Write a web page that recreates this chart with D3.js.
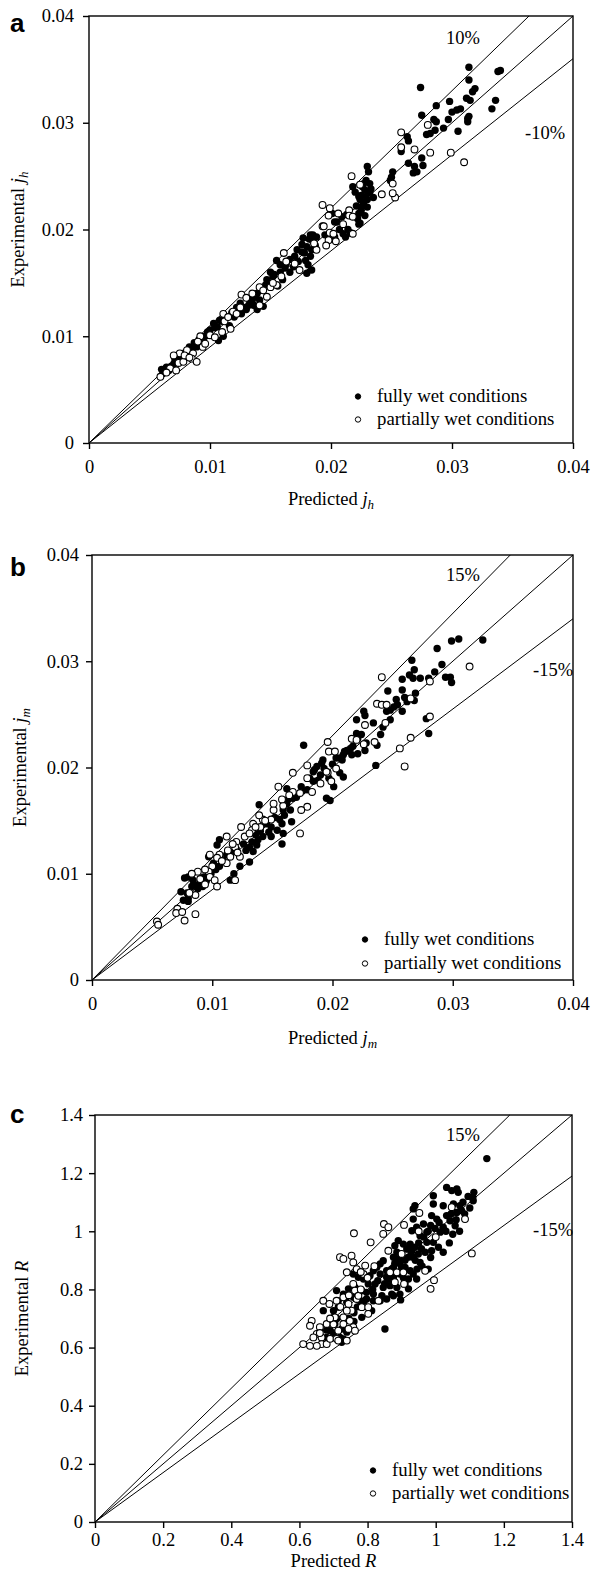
<!DOCTYPE html>
<html>
<head>
<meta charset="utf-8">
<script src="https://cdn.jsdelivr.net/npm/d3@7"></script>
<style>
  body { margin: 0; background: #fff; }
  svg { display: block; }
</style>
</head>
<body>
<svg id="chart" width="600" height="1573"></svg>
<script>
// ---- data ----
const jTicks = [0, 0.01, 0.02, 0.03, 0.04]
const jTickLabels = ["0", "0.01", "0.02", "0.03", "0.04"]
const rTicks = [0, 0.2, 0.4, 0.6, 0.8, 1, 1.2, 1.4]
const rTickLabels = ["0", "0.2", "0.4", "0.6", "0.8", "1", "1.2", "1.4"]
const legendLabels = ["fully wet conditions", "partially wet conditions"]
const jhBand = 0.10
const jmBand = 0.15
const rBand = 0.15

// (a) heat transfer j_h : [predicted, experimental]
const jhFully = [
  [0.0314,0.0352],[0.0314,0.0340],[0.0338,0.0348],[0.0340,0.0349],[0.0274,0.0333],[0.0319,0.0332],[0.0317,0.0329],
  [0.0298,0.0320],[0.0287,0.0316],[0.0312,0.0323],[0.0315,0.0321],[0.0336,0.0321],[0.0333,0.0313],[0.0275,0.0307],
  [0.0285,0.0303],[0.0287,0.0301],[0.0300,0.0310],[0.0304,0.0312],[0.0307,0.0313],[0.0297,0.0303],[0.0313,0.0304],
  [0.0314,0.0306],[0.0313,0.0301],[0.0305,0.0292],[0.0293,0.0295],[0.0286,0.0293],[0.0279,0.0289],[0.0282,0.0290],
  [0.0263,0.0287],[0.0264,0.0283],[0.0258,0.0273],[0.0264,0.0262],[0.0269,0.0259],[0.0268,0.0253],[0.0275,0.0267],
  [0.0276,0.0260],[0.0271,0.0254],[0.0251,0.0254],[0.0250,0.0249],[0.0249,0.0246],[0.0230,0.0259],[0.0231,0.0254],
  [0.0227,0.0243],[0.0228,0.0237],[0.0225,0.0232],[0.0229,0.0231],[0.0224,0.0228],[0.0227,0.0225],[0.0230,0.0221],
  [0.0225,0.0218],[0.0223,0.0215],[0.0232,0.0243],[0.0232,0.0235],[0.0223,0.0205],[0.0201,0.0215],[0.0203,0.0207],
  [0.0209,0.0212],[0.0213,0.0214],[0.0185,0.0195],[0.0188,0.0193],[0.0210,0.0196],[0.0216,0.0197],[0.0203,0.0193],
  [0.0177,0.0192],[0.0183,0.0195],[0.0185,0.0189],[0.0180,0.0184],[0.0184,0.0181],[0.0176,0.0179],[0.0183,0.0175],
  [0.0179,0.0171],[0.0181,0.0167],[0.0180,0.0159],[0.0184,0.0162],[0.0172,0.0181],[0.0155,0.0171],[0.0158,0.0167],
  [0.0162,0.0164],[0.0166,0.0160],[0.0169,0.0165],[0.0147,0.0153],[0.0152,0.0156],[0.0141,0.0134],[0.0139,0.0125],
  [0.0136,0.0129],[0.0144,0.0128],[0.0130,0.0125],[0.0126,0.0121],[0.0108,0.0115],[0.0106,0.0109],[0.0111,0.0100],
  [0.0107,0.0096],[0.0103,0.0112],[0.0094,0.0098],[0.0089,0.0090],[0.0083,0.0090],[0.0078,0.0084],[0.0071,0.0078],
  [0.0064,0.0071],[0.0061,0.0065],[0.0218,0.0240],[0.0223,0.0231],[0.0224,0.0206],[0.0214,0.0200],[0.0207,0.0200],
  [0.0205,0.0207],[0.0133,0.0133],[0.0137,0.0137],[0.0120,0.0118],[0.0116,0.0110],[0.0098,0.0104],[0.0092,0.0093],
  [0.0068,0.0072],[0.0074,0.0076],[0.0060,0.0069],[0.0156,0.0147],[0.0160,0.0153],[0.0150,0.0160],[0.0176,0.0186],
  [0.0187,0.0185],[0.0195,0.0195],[0.0200,0.0191],[0.0212,0.0193],[0.0230,0.0228],[0.0226,0.0222],[0.0220,0.0235],
  [0.0062,0.0066],[0.0066,0.0068],[0.0070,0.0074],[0.0076,0.0080],[0.0080,0.0085],[0.0085,0.0088],[0.0087,0.0094],
  [0.0091,0.0097],[0.0096,0.0100],[0.0100,0.0106],[0.0104,0.0108],[0.0110,0.0114],[0.0113,0.0118],[0.0118,0.0122],
  [0.0122,0.0127],[0.0125,0.0131],[0.0128,0.0127],[0.0132,0.0129],[0.0135,0.0134],[0.0139,0.0140],[0.0142,0.0143],
  [0.0146,0.0148],[0.0149,0.0150],[0.0153,0.0158],[0.0158,0.0160],[0.0163,0.0168],[0.0166,0.0172],[0.0170,0.0175],
  [0.0173,0.0170],[0.0178,0.0178],[0.0182,0.0191],[0.0186,0.0192],[0.0226,0.0240],[0.0229,0.0246],[0.0221,0.0222],
  [0.0233,0.0238],[0.0222,0.0210],[0.0228,0.0213],[0.0235,0.0230]
]
const jhPartial = [
  [0.0258,0.0291],[0.0280,0.0298],[0.0258,0.0277],[0.0269,0.0275],[0.0282,0.0272],[0.0299,0.0272],[0.0310,0.0263],
  [0.0217,0.0250],[0.0224,0.0242],[0.0251,0.0243],[0.0242,0.0233],[0.0253,0.0230],[0.0251,0.0234],[0.0193,0.0223],
  [0.0199,0.0220],[0.0206,0.0215],[0.0215,0.0218],[0.0198,0.0213],[0.0215,0.0213],[0.0193,0.0203],[0.0218,0.0196],
  [0.0199,0.0197],[0.0218,0.0212],[0.0202,0.0196],[0.0198,0.0190],[0.0204,0.0189],[0.0188,0.0181],[0.0194,0.0203],
  [0.0161,0.0178],[0.0163,0.0170],[0.0174,0.0162],[0.0141,0.0146],[0.0150,0.0146],[0.0155,0.0148],[0.0147,0.0137],
  [0.0159,0.0156],[0.0141,0.0129],[0.0126,0.0139],[0.0130,0.0136],[0.0119,0.0123],[0.0122,0.0121],[0.0111,0.0121],
  [0.0112,0.0114],[0.0117,0.0107],[0.0110,0.0104],[0.0100,0.0101],[0.0092,0.0100],[0.0090,0.0095],[0.0094,0.0090],
  [0.0081,0.0087],[0.0075,0.0084],[0.0086,0.0084],[0.0070,0.0082],[0.0074,0.0075],[0.0078,0.0076],[0.0085,0.0079],
  [0.0067,0.0070],[0.0072,0.0068],[0.0059,0.0062],[0.0089,0.0076],[0.0064,0.0066],[0.0079,0.0082],[0.0083,0.0080],
  [0.0096,0.0093],[0.0104,0.0099],[0.0115,0.0118],[0.0125,0.0127],[0.0135,0.0140],[0.0144,0.0143],[0.0152,0.0150],
  [0.0170,0.0168],[0.0186,0.0187],[0.0210,0.0205],[0.0196,0.0185]
]

// (b) mass transfer j_m
const jmFully = [
  [0.0299,0.0319],[0.0305,0.0321],[0.0325,0.0320],[0.0287,0.0312],[0.0266,0.0301],[0.0291,0.0297],[0.0268,0.0292],
  [0.0285,0.0290],[0.0264,0.0287],[0.0267,0.0284],[0.0273,0.0284],[0.0280,0.0284],[0.0294,0.0285],[0.0298,0.0285],
  [0.0299,0.0280],[0.0258,0.0283],[0.0246,0.0272],[0.0258,0.0273],[0.0269,0.0270],[0.0260,0.0266],[0.0253,0.0264],
  [0.0254,0.0259],[0.0251,0.0257],[0.0262,0.0262],[0.0268,0.0263],[0.0245,0.0253],[0.0248,0.0254],[0.0258,0.0253],
  [0.0226,0.0253],[0.0227,0.0249],[0.0220,0.0245],[0.0234,0.0242],[0.0242,0.0238],[0.0248,0.0245],[0.0220,0.0232],
  [0.0224,0.0231],[0.0240,0.0231],[0.0237,0.0221],[0.0228,0.0223],[0.0227,0.0216],[0.0221,0.0213],[0.0217,0.0220],
  [0.0212,0.0216],[0.0209,0.0212],[0.0208,0.0207],[0.0203,0.0209],[0.0216,0.0212],[0.0176,0.0221],[0.0280,0.0232],
  [0.0278,0.0246],[0.0236,0.0202],[0.0192,0.0207],[0.0187,0.0201],[0.0184,0.0196],[0.0190,0.0193],[0.0206,0.0195],
  [0.0209,0.0191],[0.0197,0.0190],[0.0221,0.0227],[0.0215,0.0218],[0.0210,0.0215],[0.0206,0.0209],[0.0201,0.0182],
  [0.0195,0.0171],[0.0198,0.0169],[0.0191,0.0204],[0.0185,0.0198],[0.0184,0.0187],[0.0179,0.0179],[0.0174,0.0182],
  [0.0167,0.0171],[0.0162,0.0166],[0.0159,0.0160],[0.0165,0.0160],[0.0166,0.0149],[0.0158,0.0147],[0.0154,0.0141],
  [0.0159,0.0138],[0.0156,0.0151],[0.0149,0.0144],[0.0149,0.0135],[0.0142,0.0135],[0.0138,0.0132],[0.0137,0.0127],
  [0.0134,0.0121],[0.0131,0.0125],[0.0139,0.0165],[0.0162,0.0180],[0.0158,0.0128],[0.0131,0.0111],[0.0123,0.0107],
  [0.0118,0.0100],[0.0115,0.0094],[0.0106,0.0107],[0.0104,0.0127],[0.0106,0.0132],[0.0101,0.0110],[0.0097,0.0116],
  [0.0093,0.0097],[0.0090,0.0091],[0.0084,0.0094],[0.0080,0.0097],[0.0077,0.0096],[0.0083,0.0088],[0.0079,0.0082],
  [0.0080,0.0077],[0.0076,0.0075],[0.0080,0.0074],[0.0085,0.0090],[0.0088,0.0086],[0.0092,0.0088],[0.0095,0.0093],
  [0.0099,0.0100],[0.0103,0.0104],[0.0109,0.0113],[0.0112,0.0118],[0.0116,0.0120],[0.0120,0.0123],[0.0126,0.0128],
  [0.0128,0.0122],[0.0133,0.0130],[0.0136,0.0137],[0.0140,0.0140],[0.0145,0.0147],[0.0147,0.0139],[0.0152,0.0153],
  [0.0160,0.0155],[0.0163,0.0170],[0.0170,0.0172],[0.0175,0.0178],[0.0181,0.0190],[0.0188,0.0188],[0.0193,0.0199],
  [0.0200,0.0203],[0.0074,0.0083]
]
const jmPartial = [
  [0.0241,0.0285],[0.0314,0.0295],[0.0281,0.0281],[0.0237,0.0260],[0.0241,0.0259],[0.0245,0.0259],[0.0265,0.0265],
  [0.0227,0.0240],[0.0244,0.0242],[0.0281,0.0248],[0.0216,0.0227],[0.0220,0.0226],[0.0226,0.0222],[0.0235,0.0224],
  [0.0196,0.0224],[0.0265,0.0228],[0.0256,0.0218],[0.0260,0.0201],[0.0197,0.0215],[0.0202,0.0215],[0.0179,0.0202],
  [0.0167,0.0195],[0.0196,0.0195],[0.0203,0.0199],[0.0179,0.0190],[0.0195,0.0196],[0.0199,0.0187],[0.0190,0.0185],
  [0.0183,0.0177],[0.0173,0.0176],[0.0167,0.0177],[0.0179,0.0163],[0.0174,0.0160],[0.0155,0.0182],[0.0151,0.0160],
  [0.0159,0.0164],[0.0142,0.0151],[0.0134,0.0147],[0.0133,0.0141],[0.0140,0.0144],[0.0149,0.0151],[0.0124,0.0144],
  [0.0127,0.0135],[0.0120,0.0130],[0.0112,0.0135],[0.0119,0.0125],[0.0123,0.0116],[0.0115,0.0116],[0.0106,0.0118],
  [0.0112,0.0110],[0.0104,0.0115],[0.0098,0.0118],[0.0100,0.0107],[0.0097,0.0102],[0.0098,0.0097],[0.0102,0.0094],
  [0.0119,0.0094],[0.0088,0.0102],[0.0083,0.0100],[0.0086,0.0080],[0.0081,0.0082],[0.0104,0.0088],[0.0173,0.0138],
  [0.0151,0.0166],[0.0054,0.0055],[0.0055,0.0052],[0.0071,0.0067],[0.0070,0.0063],[0.0075,0.0064],[0.0077,0.0056],
  [0.0086,0.0062],[0.0090,0.0095],[0.0094,0.0104],[0.0108,0.0112],[0.0113,0.0122],[0.0117,0.0128],[0.0121,0.0120],
  [0.0131,0.0138],[0.0136,0.0144],[0.0144,0.0150],[0.0139,0.0155],[0.0158,0.0170],[0.0164,0.0174],[0.0094,0.0090]
]

// (c) ratio R
const rFully = [
  [1.032,1.151],[1.047,1.140],[1.062,1.146],[1.066,1.134],[1.112,1.134],[1.109,1.117],[0.993,1.122],[0.939,1.088],
  [0.934,1.077],[0.993,1.094],[1.022,1.088],[1.052,1.094],[1.071,1.088],[1.076,1.071],[1.062,1.065],[0.988,1.054],
  [1.003,1.042],[1.032,1.054],[1.042,1.036],[1.022,1.014],[1.057,1.019],[1.013,0.997],[0.934,1.042],[0.944,1.014],
  [0.930,1.002],[0.954,0.985],[0.974,0.997],[0.964,1.025],[0.974,0.962],[0.993,0.962],[1.008,0.945],[1.022,0.928],
  [0.988,0.933],[0.969,0.928],[0.890,0.968],[0.880,0.950],[0.905,0.956],[0.925,0.956],[0.915,0.939],[0.930,0.933],
  [0.939,0.945],[0.934,0.911],[0.949,0.922],[0.954,0.893],[0.920,0.911],[0.900,0.922],[0.886,0.928],[0.876,0.911],
  [0.837,0.888],[0.846,0.899],[0.827,0.876],[0.856,0.864],[0.876,0.876],[0.895,0.888],[0.910,0.876],[0.925,0.864],
  [0.934,0.853],[0.944,0.836],[0.920,0.836],[0.895,0.853],[0.876,0.842],[0.856,0.842],[0.837,0.853],[0.817,0.864],
  [0.807,0.847],[0.788,0.836],[0.773,0.842],[0.758,0.853],[0.802,0.819],[0.822,0.819],[0.846,0.807],[0.866,0.813],
  [0.886,0.807],[0.910,0.819],[0.920,0.802],[0.895,0.784],[0.876,0.778],[0.842,0.778],[0.817,0.784],[0.797,0.790],
  [0.783,0.796],[0.763,0.807],[0.744,0.802],[0.729,0.784],[0.709,0.796],[0.714,0.761],[0.739,0.756],[0.758,0.773],
  [0.778,0.761],[0.797,0.767],[0.817,0.761],[0.837,0.761],[0.856,0.767],[0.871,0.784],[0.897,0.764],[0.978,0.870],
  [0.700,0.704],[0.690,0.692],[0.704,0.681],[0.724,0.664],[0.739,0.653],[0.719,0.635],[0.729,0.630],[0.783,0.704],
  [0.812,0.727],[0.851,0.664],[0.680,0.635],[0.700,0.727],[0.714,0.739],[0.670,0.727],[0.690,0.658],[0.724,0.618],
  [1.150,1.250],[1.110,1.105],[1.100,1.080],[1.085,1.060],[1.050,0.990],[1.070,1.000],[1.040,0.960],
  [0.850,0.820],[0.862,0.835],[0.870,0.870],[0.880,0.890],[0.892,0.905],[0.900,0.875],[0.910,0.900],[0.918,0.940],
  [0.928,0.920],[0.940,0.900],[0.950,0.960],[0.958,0.940],[0.965,0.980],[0.978,1.000],[0.985,1.020],[0.998,1.010],
  [1.010,1.030],[1.030,1.000],[1.045,1.060],[1.060,1.040],[1.080,1.100],[1.095,1.120],[0.960,0.880],[0.985,0.910],
  [0.945,0.870],[0.905,0.840],[0.830,0.830],[0.815,0.800],[0.790,0.760],[0.770,0.740],[0.760,0.720],[0.745,0.700],
  [0.760,0.690],[0.700,0.650],[0.680,0.660],[0.710,0.700]
]
const rPartial = [
  [0.760,0.993],[0.809,0.962],[0.848,1.025],[0.861,1.014],[0.846,0.991],[0.907,1.022],[0.952,1.063],[1.047,1.083],
  [1.086,1.042],[1.106,0.924],[0.719,0.911],[0.729,0.905],[0.753,0.916],[0.758,0.893],[0.739,0.859],[0.768,0.870],
  [0.793,0.882],[0.788,0.853],[0.861,0.933],[0.900,0.922],[0.866,0.859],[0.886,0.859],[0.905,0.859],[0.880,0.825],
  [0.907,0.819],[0.969,0.864],[0.995,0.832],[0.985,0.802],[0.670,0.761],[0.688,0.750],[0.709,0.761],[0.729,0.773],
  [0.744,0.750],[0.753,0.727],[0.768,0.767],[0.783,0.739],[0.802,0.739],[0.832,0.761],[0.758,0.819],[0.763,0.796],
  [0.773,0.778],[0.739,0.727],[0.729,0.704],[0.748,0.692],[0.729,0.681],[0.758,0.670],[0.744,0.664],[0.763,0.658],
  [0.714,0.658],[0.704,0.704],[0.680,0.681],[0.660,0.670],[0.636,0.692],[0.631,0.675],[0.651,0.647],[0.641,0.635],
  [0.665,0.635],[0.665,0.612],[0.651,0.606],[0.680,0.612],[0.690,0.630],[0.709,0.630],[0.611,0.612],[0.631,0.606],
  [0.714,0.624],[0.739,0.624],[0.802,0.716],[0.780,0.800],[0.800,0.840],[0.745,0.780],[0.720,0.740],[0.700,0.680],
  [0.690,0.700],[0.660,0.650],[0.780,0.860],[0.820,0.880],[0.950,1.000],[1.000,0.980]
]

// ---- layout of the three panels ----
const panels = [
  { letter: "a", letterY: 32, left: 89, right: 573, top: 16, bottom: 443, max: 0.04,
    ticks: jTicks, labels: jTickLabels, band: jhBand, full: jhFully, part: jhPartial,
    sym: "j", sub: "h", padY: 9, padX: 11, titleX: 24, titleY: 505, legX: 358, legY: [402, 425], bandX: [446, 525], bandY: [28, 123] },
  { letter: "b", letterY: 576, left: 92, right: 573, top: 555, bottom: 980, max: 0.04,
    ticks: jTicks, labels: jTickLabels, band: jmBand, full: jmFully, part: jmPartial,
    sym: "j", sub: "m", padY: 7, padX: 11, titleX: 26, titleY: 1044, legX: 365, legY: [945, 969], bandX: [446, 533], bandY: [26, 121] },
  { letter: "c", letterY: 1123, left: 95, right: 572, top: 1115, bottom: 1522, max: 1.4,
    ticks: rTicks, labels: rTickLabels, band: rBand, full: rFully, part: rPartial,
    sym: "R", sub: null, padY: 6, padX: 5, titleX: 28, titleY: 1567, legX: 373, legY: [1476, 1499], bandX: [446, 533], bandY: [26, 121] }
]

const FONT = "'Liberation Serif', 'Times New Roman', serif"
const svg = d3.select("#chart")

function symbolText(sel, prefix, sym, sub) {
  sel.append("tspan").text(prefix)
  sel.append("tspan").attr("font-style", "italic").text(sym)
  if (sub) sel.append("tspan").attr("font-style", "italic").attr("font-size", 13).attr("dy", 4).text(sub)
}

function drawPanel(p) {
  const x = d3.scaleLinear().domain([0, p.max]).range([p.left, p.right])
  const y = d3.scaleLinear().domain([0, p.max]).range([p.bottom, p.top])
  const g = svg.append("g")

  // reference lines y = (1 ± band) x and y = x
  ;[1 + p.band, 1, 1 - p.band].forEach(f => {
    const xe = Math.min(p.max, p.max / f)
    g.append("line")
      .attr("x1", x(0)).attr("y1", y(0)).attr("x2", x(xe)).attr("y2", y(xe * f))
      .attr("stroke", "#000").attr("stroke-width", 1)
  })

  g.selectAll(".full").data(p.full).enter().append("circle")
    .attr("cx", d => x(d[0])).attr("cy", d => y(d[1])).attr("r", 3.7)
    .attr("fill", "#000")
  g.selectAll(".part").data(p.part).enter().append("circle")
    .attr("cx", d => x(d[0])).attr("cy", d => y(d[1])).attr("r", 3.4)
    .attr("fill", "#fff").attr("stroke", "#000").attr("stroke-width", 1.1)

  // frame
  g.append("rect")
    .attr("x", p.left).attr("y", p.top).attr("width", p.right - p.left).attr("height", p.bottom - p.top)
    .attr("fill", "none").attr("stroke", "#000").attr("stroke-width", 1.4)

  const yAxis = d3.axisLeft(y).tickValues(p.ticks).tickFormat((d, i) => p.labels[i]).tickSize(6).tickPadding(p.padY)
  const xAxis = d3.axisBottom(x).tickValues(p.ticks).tickFormat((d, i) => p.labels[i]).tickSize(6).tickPadding(p.padX)
  const ya = g.append("g").attr("transform", `translate(${p.left},0)`).call(yAxis)
  const xa = g.append("g").attr("transform", `translate(0,${p.bottom})`).call(xAxis)
  ;[ya, xa].forEach(a => {
    a.select(".domain").remove()
    a.attr("font-family", FONT).attr("font-size", 18.5)
    a.selectAll("line").attr("stroke", "#000").attr("stroke-width", 1.4)
    a.selectAll("text").attr("fill", "#000")
  })

  // panel letter
  svg.append("text").attr("x", 10).attr("y", p.letterY)
    .attr("font-family", "'Liberation Sans', Arial, sans-serif").attr("font-weight", "bold").attr("font-size", 26)
    .text(p.letter)

  // band labels
  const pct = Math.round(p.band * 100)
  svg.append("text").attr("x", p.bandX[0]).attr("y", p.top + p.bandY[0])
    .attr("font-family", FONT).attr("font-size", 18.5).text(pct + "%")
  svg.append("text").attr("x", p.bandX[1]).attr("y", p.top + p.bandY[1])
    .attr("font-family", FONT).attr("font-size", 18.5).text("-" + pct + "%")

  // axis titles
  const xt = svg.append("text").attr("x", (p.left + p.right) / 2).attr("y", p.titleY)
    .attr("text-anchor", "middle").attr("font-family", FONT).attr("font-size", 18.5)
  symbolText(xt, "Predicted ", p.sym, p.sub)
  const cy = (p.top + p.bottom) / 2
  const yt = svg.append("text").attr("transform", `translate(${p.titleX},${cy}) rotate(-90)`)
    .attr("text-anchor", "middle").attr("font-family", FONT).attr("font-size", 18.5)
  symbolText(yt, "Experimental ", p.sym, p.sub)

  // legend
  legendLabels.forEach((lab, i) => {
    svg.append("circle").attr("cx", p.legX).attr("cy", p.legY[i] - 5.5).attr("r", 2.7)
      .attr("fill", i === 0 ? "#000" : "#fff").attr("stroke", "#000").attr("stroke-width", 1)
    svg.append("text").attr("x", p.legX + 19).attr("y", p.legY[i])
      .attr("font-family", FONT).attr("font-size", 18.8).text(lab)
  })
}

panels.forEach(drawPanel)
</script>
</body>
</html>
